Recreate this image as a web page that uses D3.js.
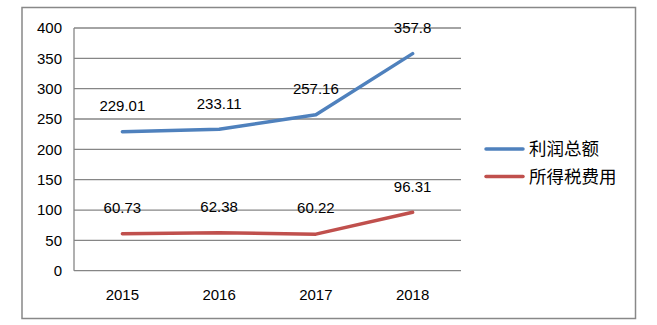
<!DOCTYPE html>
<html><head><meta charset="utf-8">
<script src="https://cdn.jsdelivr.net/npm/d3@7"></script>
<style>body{margin:0;background:#fff}svg{display:block}</style>
</head><body>
<script>
const years = ["2015","2016","2017","2018"];
const profit = [229.01, 233.11, 257.16, 357.8];
const tax = [60.73, 62.38, 60.22, 96.31];
const profitLabels = ["229.01","233.11","257.16","357.8"];
const taxLabels = ["60.73","62.38","60.22","96.31"];
const yTicks = [0,50,100,150,200,250,300,350,400];
const seriesNames = ["利润总额","所得税费用"];
const colors = ["#4F81BD","#C0504D"];

const W=657,H=325;
const svg=d3.select("body").append("svg").attr("width",W).attr("height",H);
svg.append("rect").attr("x",22).attr("y",7.5).attr("width",613.5).attr("height",311).attr("fill","#fff").attr("stroke","#888").attr("stroke-width",1.5);

const x=d3.scaleBand().domain(years).range([74,461]);
const y=d3.scaleLinear().domain([0,400]).range([270.7,28]);
const cx=d=>x(d)+x.bandwidth()/2;
const font="Liberation Sans, Arial, sans-serif";
const fs=15;

const g=svg.append("g");
g.selectAll("line.grid").data(yTicks).join("line").attr("class","grid")
 .attr("x1",74).attr("x2",461).attr("y1",d=>y(d)).attr("y2",d=>y(d))
 .attr("stroke","#868686").attr("stroke-width",1.3);
g.append("line").attr("x1",74).attr("x2",74).attr("y1",y(400)).attr("y2",y(0)).attr("stroke","#868686").attr("stroke-width",1.3);

g.selectAll("text.yt").data(yTicks).join("text").attr("class","yt")
 .attr("x",62).attr("y",d=>y(d)).attr("dy","0.35em").attr("text-anchor","end")
 .attr("font-family",font).attr("font-size",fs).attr("fill","#000").text(d=>d);
g.selectAll("text.xt").data(years).join("text").attr("class","xt")
 .attr("x",cx).attr("y",295).attr("dy","0.35em").attr("text-anchor","middle")
 .attr("font-family",font).attr("font-size",fs).attr("fill","#000").text(d=>d);

const line=d3.line().x((d,i)=>cx(years[i])).y(d=>y(d));
[profit,tax].forEach((s,k)=>{
  g.append("path").datum(s).attr("d",line).attr("fill","none").attr("stroke",colors[k])
   .attr("stroke-width",3.5).attr("stroke-linecap","round").attr("stroke-linejoin","round");
});
[[profit,profitLabels],[tax,taxLabels]].forEach(([s,l])=>{
  g.selectAll(null).data(s).join("text").attr("x",(d,i)=>cx(years[i])).attr("y",d=>y(d)-26)
   .attr("dy","0.35em").attr("text-anchor","middle").attr("font-family",font).attr("font-size",fs)
   .attr("fill","#000").text((d,i)=>l[i]);
});

const ly=[149,176.5];
seriesNames.forEach((n,k)=>{
  svg.append("line").attr("x1",486).attr("x2",523).attr("y1",ly[k]).attr("y2",ly[k])
   .attr("stroke",colors[k]).attr("stroke-width",3.5).attr("stroke-linecap","round");
  svg.append("text").attr("x",529).attr("y",ly[k]).attr("dy","0.35em")
   .attr("font-family","Noto Sans CJK SC, sans-serif").attr("font-size",17.5).attr("fill","#000").text(n);
});
</script>
</body></html>
